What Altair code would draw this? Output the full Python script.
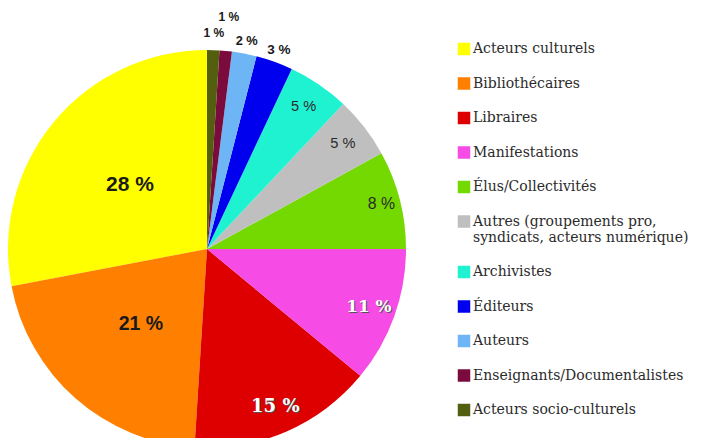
import altair as alt
import pandas as pd

categories = [
    "Acteurs culturels",
    "Bibliothécaires",
    "Libraires",
    "Manifestations",
    "Élus/Collectivités",
    "Autres (groupements pro, syndicats, acteurs numérique)",
    "Archivistes",
    "Éditeurs",
    "Auteurs",
    "Enseignants/Documentalistes",
    "Acteurs socio-culturels",
]
values = [28, 21, 15, 11, 8, 5, 5, 3, 2, 1, 1]
colors = [
    "#ffff00", "#ff8000", "#de0000", "#f64be4", "#74d900", "#bfbfbf",
    "#1ff2d0", "#0000ee", "#6db5f5", "#7a0b3c", "#535e0f",
]

df = pd.DataFrame({
    "categorie": categories,
    "part": values,
    "rang": list(range(len(categories))),
    "etiquette": [f"{v} %" for v in values],
})

CX, CY, R = 199, 241, 199
SERIF = "DejaVu Serif"

arcs = alt.Chart(df).mark_arc(outerRadius=R).encode(
    theta=alt.Theta("part:Q", stack=True),
    order=alt.Order("rang:Q", sort="descending"),
    x=alt.value(CX),
    y=alt.value(CY),
    color=alt.Color(
        "categorie:N",
        scale=alt.Scale(domain=categories, range=colors),
        legend=alt.Legend(
            title=None,
            orient="none",
            legendX=449,
            legendY=34,
            symbolType="square",
            symbolSize=156,
            symbolStrokeWidth=0,
            labelFont=SERIF,
            labelFontSize=14,
            labelFontWeight="normal",
            labelColor="#2b2b2b",
            labelLimit=400,
            rowPadding=20.5,
            labelOffset=2,
            padding=0,
            labelExpr="indexof(datum.label, '(') > 0 ? ['Autres (groupements pro,', 'syndicats, acteurs numérique)'] : datum.label",
        ),
    ),
)

text_base = alt.Chart(df).transform_window(
    cum="sum(part)", sort=[alt.SortField("rang", order="descending")], frame=[None, 0]
).transform_calculate(
    mid="datum.cum - datum.part / 2",
    r="datum.part >= 20 ? 100 : datum.part == 8 ? 180 : datum.part >= 5 ? 172 : "
      "(datum.categorie == 'Enseignants/Documentalistes' ? 233 : datum.categorie == 'Acteurs socio-culturels' ? 216 : 212)",
).encode(
    theta=alt.Theta("mid:Q", stack=None, scale=alt.Scale(domain=[0, 100], range=[0, 6.283185307179586])),
    radius=alt.Radius("r:Q", scale=None),
    x=alt.value(CX),
    y=alt.value(CY),
    text="etiquette:N",
    size=alt.Size("part:Q", scale=alt.Scale(type="sqrt", domain=[1, 28], range=[12, 21], zero=False), legend=None),
)

bold_dark = text_base.transform_filter("datum.part >= 20 || datum.part <= 3").mark_text(
    font="Liberation Sans", fontWeight="bold", color="#1a1a1a", align="center", baseline="middle"
)
regular_dark = text_base.transform_filter("datum.part >= 5 && datum.part <= 8").mark_text(
    font="Liberation Sans", color="#2a2a2a", align="center", baseline="middle"
)
shadow = text_base.transform_filter("datum.part == 11 || datum.part == 15").mark_text(
    font=SERIF, fontWeight="bold", color="#555555", align="center", baseline="middle", dx=1, dy=1
)
white = text_base.transform_filter("datum.part == 11 || datum.part == 15").mark_text(
    font=SERIF, fontWeight="bold", color="#ffffff", align="center", baseline="middle"
)

chart = alt.layer(arcs, bold_dark, regular_dark, shadow, white).properties(
    width=695, height=430, padding=0, autosize=alt.AutoSizeParams(type="none")
).configure_view(stroke=None).configure_legend(labelFont=SERIF)

chart.save("out.html", embed_options={"renderer": "svg", "actions": False})
